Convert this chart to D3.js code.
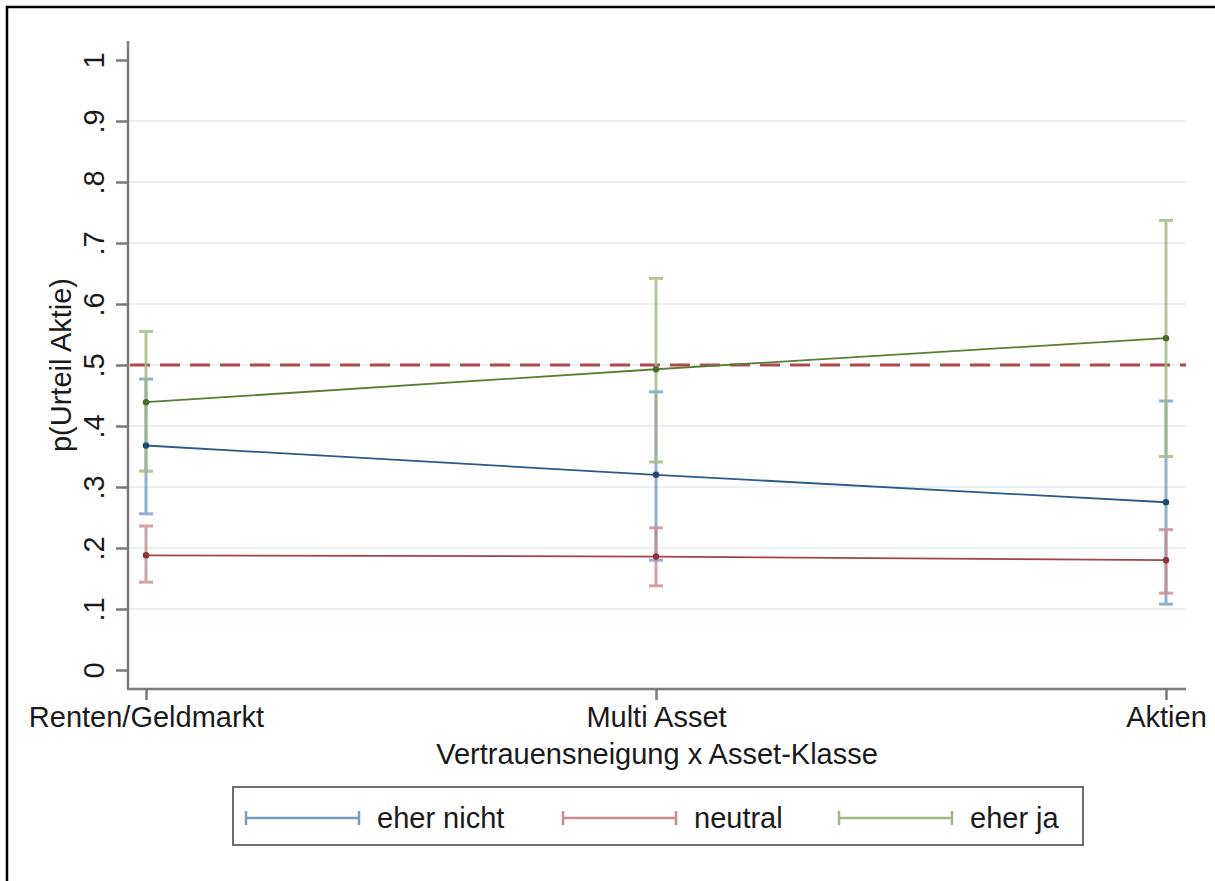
<!DOCTYPE html>
<html>
<head>
<meta charset="utf-8">
<script src="https://cdn.jsdelivr.net/npm/d3@7"></script>
<style>
  html, body { margin: 0; padding: 0; background: #fff; }
  svg { display: block; font-family: "Liberation Sans", Arial, sans-serif; }
</style>
</head>
<body>
<svg id="chart" width="1215" height="881"></svg>
<script>
// Categories on the x axis
const categories = ["Renten/Geldmarkt", "Multi Asset", "Aktien"];

// Predicted probabilities with 95% confidence bounds, per trust group
const seriesNames = ["eher nicht", "neutral", "eher ja"];
const eherNichtEst = [0.368, 0.320, 0.275];
const eherNichtLo  = [0.256, 0.180, 0.108];
const eherNichtHi  = [0.477, 0.456, 0.441];
const neutralEst   = [0.188, 0.186, 0.180];
const neutralLo    = [0.144, 0.138, 0.126];
const neutralHi    = [0.236, 0.233, 0.230];
const eherJaEst    = [0.439, 0.493, 0.544];
const eherJaLo     = [0.326, 0.341, 0.350];
const eherJaHi     = [0.555, 0.642, 0.737];

// Y axis tick values and labels
const yTicks = [0, 0.1, 0.2, 0.3, 0.4, 0.5, 0.6, 0.7, 0.8, 0.9, 1];
const yTickLabels = ["0", ".1", ".2", ".3", ".4", ".5", ".6", ".7", ".8", ".9", "1"];
const refLine = 0.5;

const series = [
  { name: seriesNames[0], est: eherNichtEst, lo: eherNichtLo, hi: eherNichtHi,
    line: "#2c5a8a", dot: "#1f4a78", ci: "#7b9cc0" },
  { name: seriesNames[1], est: neutralEst, lo: neutralLo, hi: neutralHi,
    line: "#a4424a", dot: "#93323a", ci: "#c98a90" },
  { name: seriesNames[2], est: eherJaEst, lo: eherJaLo, hi: eherJaHi,
    line: "#5a7d33", dot: "#4a6c28", ci: "#a0b884" }
];

const svg = d3.select("#chart");
const axisColor = "#7a7a7a";
const textColor = "#1a1a1a";
const fontSize = 29;

// outer frame
svg.append("rect").attr("x", 7).attr("y", 7).attr("width", 1240).attr("height", 900)
  .attr("fill", "none").attr("stroke", "#000").attr("stroke-width", 2.5);

const plotLeft = 128, plotRight = 1186, plotTop = 41, plotBottom = 689;

const x = d3.scalePoint().domain(categories).range([146, 1166]);
const y = d3.scaleLinear().domain([0, 1]).range([670, 60]);

// horizontal grid lines
svg.append("g").selectAll("line")
  .data(yTicks.filter(v => v > 0 && v < 1))
  .join("line")
  .attr("x1", plotLeft).attr("x2", plotRight)
  .attr("y1", d => y(d)).attr("y2", d => y(d))
  .attr("stroke", "#eaf1f2").attr("stroke-width", 2);

// y axis
const yAxis = d3.axisLeft(y).tickValues(yTicks)
  .tickFormat((d, i) => yTickLabels[i]).tickSize(12).tickPadding(0);
const gy = svg.append("g").attr("transform", `translate(${plotLeft},0)`).call(yAxis);
gy.select(".domain").remove();
gy.selectAll(".tick line").attr("stroke", axisColor).attr("stroke-width", 2.5);
gy.selectAll(".tick text")
  .attr("x", null).attr("dy", null)
  .attr("transform", "translate(-24,0) rotate(-90)")
  .attr("text-anchor", "middle")
  .attr("fill", textColor)
  .style("font-size", fontSize + "px")
  .style("font-family", "'Liberation Sans', Arial, sans-serif");
svg.append("line").attr("x1", plotLeft).attr("x2", plotLeft)
  .attr("y1", plotTop).attr("y2", plotBottom)
  .attr("stroke", axisColor).attr("stroke-width", 2.5);

// x axis
const xAxis = d3.axisBottom(x).tickSize(11).tickPadding(6);
const gx = svg.append("g").attr("transform", `translate(0,${plotBottom})`).call(xAxis);
gx.select(".domain").remove();
gx.selectAll(".tick line").attr("stroke", axisColor).attr("stroke-width", 2.5);
gx.selectAll(".tick text")
  .attr("fill", textColor)
  .style("font-size", fontSize + "px")
  .style("font-family", "'Liberation Sans', Arial, sans-serif");
svg.append("line").attr("x1", plotLeft - 1).attr("x2", plotRight)
  .attr("y1", plotBottom).attr("y2", plotBottom)
  .attr("stroke", axisColor).attr("stroke-width", 2.5);

// axis titles
svg.append("text").attr("x", 657).attr("y", 764).attr("text-anchor", "middle")
  .attr("fill", textColor).style("font-size", fontSize + "px")
  .text("Vertrauensneigung x Asset-Klasse");
svg.append("text").attr("transform", `translate(71,${y(0.5)}) rotate(-90)`)
  .attr("text-anchor", "middle").attr("fill", textColor)
  .style("font-size", fontSize + "px").text("p(Urteil Aktie)");

// reference line at 0.5
svg.append("line").attr("x1", plotLeft + 2).attr("x2", plotRight)
  .attr("y1", y(refLine)).attr("y2", y(refLine))
  .attr("stroke", "#b0494f").attr("stroke-width", 3)
  .attr("stroke-dasharray", "20,10");

// confidence intervals
const capW = 14;
series.forEach(s => {
  const g = svg.append("g").attr("stroke", s.ci).attr("stroke-width", 3).attr("opacity", 0.8);
  categories.forEach((c, i) => {
    g.append("line").attr("x1", x(c)).attr("x2", x(c))
      .attr("y1", y(s.lo[i])).attr("y2", y(s.hi[i]));
    [s.lo[i], s.hi[i]].forEach(v => {
      g.append("line").attr("x1", x(c) - capW / 2).attr("x2", x(c) + capW / 2)
        .attr("y1", y(v)).attr("y2", y(v));
    });
  });
});

// estimate lines and markers
const line = d3.line().x((d, i) => x(categories[i])).y(d => y(d));
series.forEach(s => {
  svg.append("path").datum(s.est).attr("d", line)
    .attr("fill", "none").attr("stroke", s.line).attr("stroke-width", 1.8);
  svg.append("g").selectAll("circle").data(s.est).join("circle")
    .attr("cx", (d, i) => x(categories[i])).attr("cy", d => y(d))
    .attr("r", 3.2).attr("fill", s.dot);
});

// legend
const lg = svg.append("g");
lg.append("rect").attr("x", 233).attr("y", 787).attr("width", 850).attr("height", 58)
  .attr("fill", "#fff").attr("stroke", "#6e6e6e").attr("stroke-width", 2);
const keyX = [246, 563, 839];
series.forEach((s, i) => {
  const kx = keyX[i], ky = 818, kw = 113;
  const k = lg.append("g").attr("stroke", s.ci).attr("stroke-width", 2.5);
  k.append("line").attr("x1", kx).attr("x2", kx + kw).attr("y1", ky).attr("y2", ky);
  k.append("line").attr("x1", kx).attr("x2", kx).attr("y1", ky - 7).attr("y2", ky + 7);
  k.append("line").attr("x1", kx + kw).attr("x2", kx + kw).attr("y1", ky - 7).attr("y2", ky + 7);
  lg.append("text").attr("x", kx + kw + 18).attr("y", ky + 10)
    .attr("fill", textColor).style("font-size", fontSize + "px").text(s.name);
});
</script>
</body>
</html>
